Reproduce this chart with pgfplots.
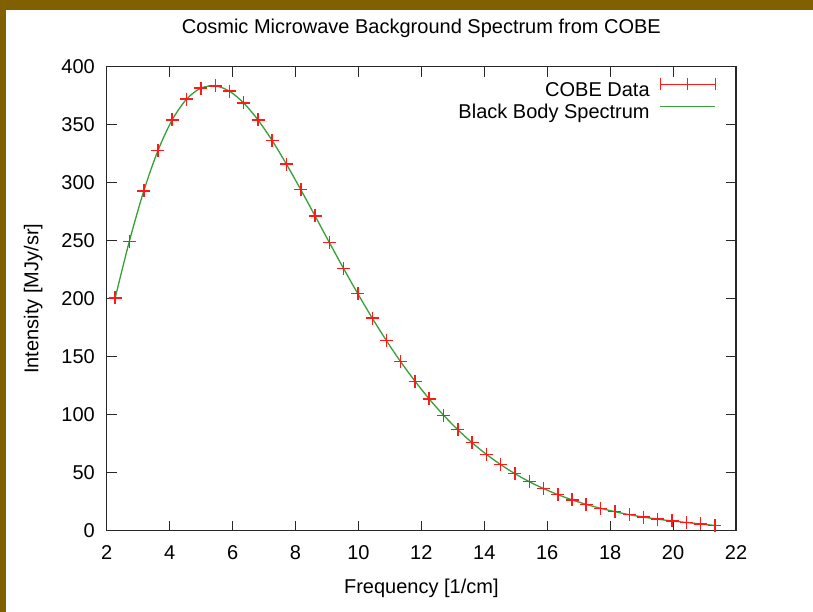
\documentclass[border=0pt]{standalone}
\usepackage{pgfplots}
\pgfplotsset{compat=1.18}
\usepackage{pgfplotstable}
\usepackage{fontspec}
\setmainfont{Liberation Sans}
\definecolor{framebrown}{RGB}{128,96,0}
\definecolor{cobered}{RGB}{255,25,25}
\definecolor{bbgreen}{RGB}{55,160,55}
\definecolor{axgray}{RGB}{40,40,40}

\pgfplotstableread{
nu I
2.27 200.723
2.72 249.508
3.18 293.024
3.63 327.770
4.08 354.081
4.54 372.079
4.99 381.493
5.45 383.478
5.90 378.901
6.35 368.833
6.81 354.063
7.26 336.278
7.71 316.076
8.17 293.924
8.62 271.432
9.08 248.239
9.53 225.940
9.98 204.327
10.44 183.262
10.89 163.830
11.34 145.750
11.80 128.835
12.25 113.568
12.71 99.451
13.16 87.036
13.61 75.876
14.07 65.766
14.52 57.008
14.97 49.223
15.43 42.267
15.88 36.352
16.34 31.062
16.79 26.580
17.24 22.644
17.70 19.255
18.15 16.391
18.61 13.811
19.06 11.716
19.51 9.921
19.97 8.364
20.42 7.087
20.87 5.801
21.33 4.523
}\cobedata

\pgfplotstableread{
nu I
2.27 200.72
2.72 249.51
3.18 293.02
3.63 327.77
4.08 354.08
4.54 372.08
4.99 381.49
5.45 383.48
5.90 378.90
6.35 368.83
6.81 354.06
7.26 336.28
7.71 316.08
8.17 293.92
8.62 271.43
9.08 248.24
9.53 225.94
9.98 204.33
10.44 183.26
10.89 163.83
11.34 145.75
11.80 128.84
12.25 113.57
12.71 99.45
13.16 87.04
13.61 75.88
14.07 65.77
14.52 57.01
14.97 49.22
15.43 42.27
15.88 36.35
16.34 31.06
16.79 26.58
17.24 22.64
17.70 19.26
18.15 16.39
18.61 13.81
19.06 11.72
19.51 9.92
19.97 8.36
20.42 7.09
20.87 5.80
21.33 4.52
}\bbdata

\begin{document}
\begin{tikzpicture}[font=\fontsize{20bp}{24bp}\selectfont]
\path[use as bounding box] (0,0) rectangle (813bp,612bp);
\fill[white] (0,0) rectangle (813bp,612bp);
\fill[framebrown] (0,602bp) rectangle (813bp,612bp);
\fill[framebrown] (0,0) rectangle (6bp,612bp);
\begin{axis}[
  at={(106.7bp,81.3bp)}, anchor=south west,
  scale only axis, width=629.3bp, height=464bp,
  xmin=2, xmax=22, ymin=0, ymax=400,
  xtick={2,4,...,22}, ytick={0,50,...,400},
  tick align=inside, major tick length=10bp,
  axis line style={line width=1.3bp, color=axgray},
  tick style={line width=1bp, color=axgray},
  /pgf/number format/assume math mode=true,
  tick label style={font=\fontsize{20bp}{24bp}\selectfont, text=black},
  xticklabel style={anchor=base, inner sep=0pt, yshift=-29.3bp},
  yticklabel style={anchor=east, inner sep=0pt, xshift=-11.7bp},
  title={Cosmic Microwave Background Spectrum from COBE},
  title style={at={(axis description cs:0.5,1.0586)}, anchor=base, inner sep=0pt, font=\fontsize{20bp}{24bp}\selectfont},
  xlabel={Frequency [1/cm]},
  xlabel style={at={(axis description cs:0.5,-0.1349)}, anchor=base, inner sep=0pt, font=\fontsize{20bp}{24bp}\selectfont},
  ylabel={Intensity [MJy/sr]},
  ylabel style={at={(axis description cs:-0.1085,0.5)}, anchor=base, rotate=0, inner sep=0pt, font=\fontsize{20bp}{24bp}\selectfont},
  legend plot pos=right,
  legend cell align=right,
  reverse legend,
  legend style={draw=none, fill=none, inner sep=0pt, outer sep=0pt,
    at={(axis description cs:0.9682,0.9767)}, anchor=north east,
    row sep=3.3bp, column sep=10bp,
    font=\fontsize{20bp}{24bp}\selectfont,
    nodes={inner sep=0pt, text height=14.5bp, text depth=4.5bp}},
]
\addplot[smooth, color=bbgreen, line width=1.3bp,
  legend image code/.code={
    \draw[bbgreen, line width=1.3bp] (0bp,7bp) -- (55bp,7bp);
  }] table[x=nu, y=I] {\bbdata};
\addlegendentry{Black Body Spectrum}
\addplot[only marks, mark=+, mark size=6.5bp, color=cobered, mark options={line width=1.5bp},
  legend image code/.code={
    \draw[cobered, line width=1.2bp] (0bp,7bp) -- (55bp,7bp);
    \draw[cobered, line width=1.2bp] (0bp,1bp) -- (0bp,13bp);
    \draw[cobered, line width=1.2bp] (55bp,1bp) -- (55bp,13bp);
    \draw[cobered, line width=1.2bp] (27.5bp,1bp) -- (27.5bp,13bp);
  }] table[x=nu, y=I] {\cobedata};
\addlegendentry{COBE Data}
\end{axis}
\end{tikzpicture}
\end{document}
